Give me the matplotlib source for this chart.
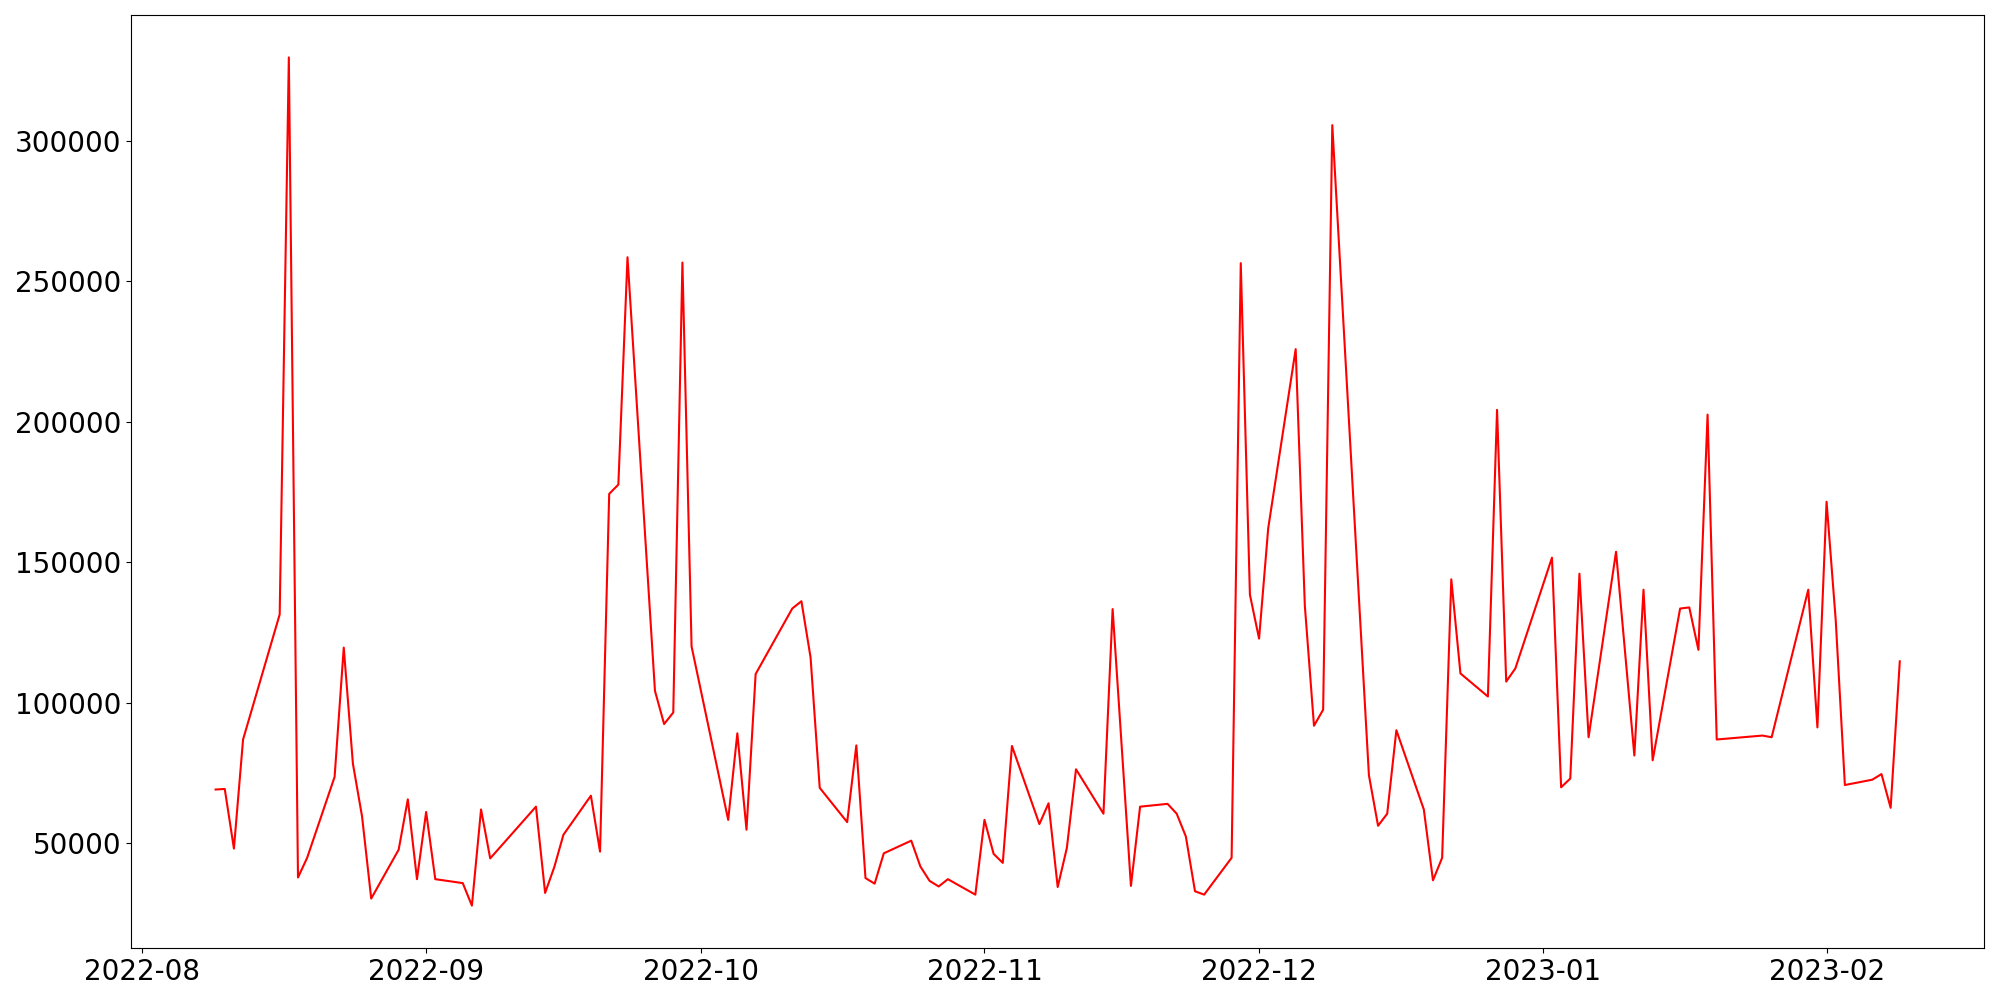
import numpy as np
import pandas as pd
import matplotlib
matplotlib.use("Agg")
import matplotlib.pyplot as plt

# fechas (dias habiles con huecos) y valores
fechas = [
    "2022-08-09", "2022-08-10", "2022-08-11", "2022-08-12", "2022-08-16", "2022-08-17",
    "2022-08-18", "2022-08-19", "2022-08-22", "2022-08-23", "2022-08-24", "2022-08-25",
    "2022-08-26", "2022-08-29", "2022-08-30", "2022-08-31", "2022-09-01", "2022-09-02",
    "2022-09-05", "2022-09-06", "2022-09-07", "2022-09-08", "2022-09-13", "2022-09-14",
    "2022-09-15", "2022-09-16", "2022-09-19", "2022-09-20", "2022-09-21", "2022-09-22",
    "2022-09-23", "2022-09-26", "2022-09-27", "2022-09-28", "2022-09-29", "2022-09-30",
    "2022-10-04", "2022-10-05", "2022-10-06", "2022-10-07", "2022-10-11", "2022-10-12",
    "2022-10-13", "2022-10-14", "2022-10-17", "2022-10-18", "2022-10-19", "2022-10-20",
    "2022-10-21", "2022-10-24", "2022-10-25", "2022-10-26", "2022-10-27", "2022-10-28",
    "2022-10-31", "2022-11-01", "2022-11-02", "2022-11-03", "2022-11-04", "2022-11-07",
    "2022-11-08", "2022-11-09", "2022-11-10", "2022-11-11", "2022-11-14", "2022-11-15",
    "2022-11-17", "2022-11-18", "2022-11-21", "2022-11-22", "2022-11-23", "2022-11-24",
    "2022-11-25", "2022-11-28", "2022-11-29", "2022-11-30", "2022-12-01", "2022-12-02",
    "2022-12-05", "2022-12-06", "2022-12-07", "2022-12-08", "2022-12-09", "2022-12-13",
    "2022-12-14", "2022-12-15", "2022-12-16", "2022-12-19", "2022-12-20", "2022-12-21",
    "2022-12-22", "2022-12-23", "2022-12-26", "2022-12-27", "2022-12-28", "2022-12-29",
    "2023-01-02", "2023-01-03", "2023-01-04", "2023-01-05", "2023-01-06", "2023-01-09",
    "2023-01-11", "2023-01-12", "2023-01-13", "2023-01-16", "2023-01-17", "2023-01-18",
    "2023-01-19", "2023-01-20", "2023-01-25", "2023-01-26", "2023-01-30", "2023-01-31",
    "2023-02-01", "2023-02-02", "2023-02-03", "2023-02-06", "2023-02-07", "2023-02-08",
    "2023-02-09",
]

valores = [
    69100, 69300, 48100, 86900, 131400, 329600,
    37800, 44800, 73600, 119600, 78300, 59500,
    30300, 47700, 65600, 37200, 61100, 37200,
    35800, 27800, 62000, 44600, 63000, 32300,
    41500, 53000, 66900, 47000, 174300, 177600,
    258500, 104200, 92400, 96500, 256600, 120000,
    58300, 89100, 54800, 110200, 133500, 136100,
    116100, 69700, 57500, 84800, 37600, 35600,
    46400, 50900, 41700, 36600, 34600, 37200,
    31700, 58300, 46200, 43000, 84600, 56800,
    64200, 34400, 48300, 76300, 60500, 133300,
    34800, 63000, 64000, 60500, 52400, 32900,
    31700, 44800, 256400, 138400, 122800, 162100,
    225800, 134500, 91800, 97500, 305500, 74200,
    56200, 60500, 90200, 62000, 36800, 44800,
    143900, 110400, 102200, 204200, 107500, 112200,
    151600, 69900, 73000, 145900, 87700, 153700,
    81200, 140200, 79500, 133500, 133900, 118800,
    202500, 86900, 88300, 87700, 140200, 91200,
    171500, 129400, 70700, 72600, 74600, 62600,
    114700,
]

df = pd.DataFrame({"fecha": pd.to_datetime(fechas), "valor": valores})

fig = plt.figure(figsize=(20, 10), dpi=100)
ax = fig.add_subplot(111)
ax.plot(df["fecha"], df["valor"], color="red", linewidth=1.5)
ax.tick_params(axis="both", labelsize=20)
fig.subplots_adjust(left=0.0657, right=0.992, top=0.985, bottom=0.052)
fig.savefig("out.png", dpi=100)
